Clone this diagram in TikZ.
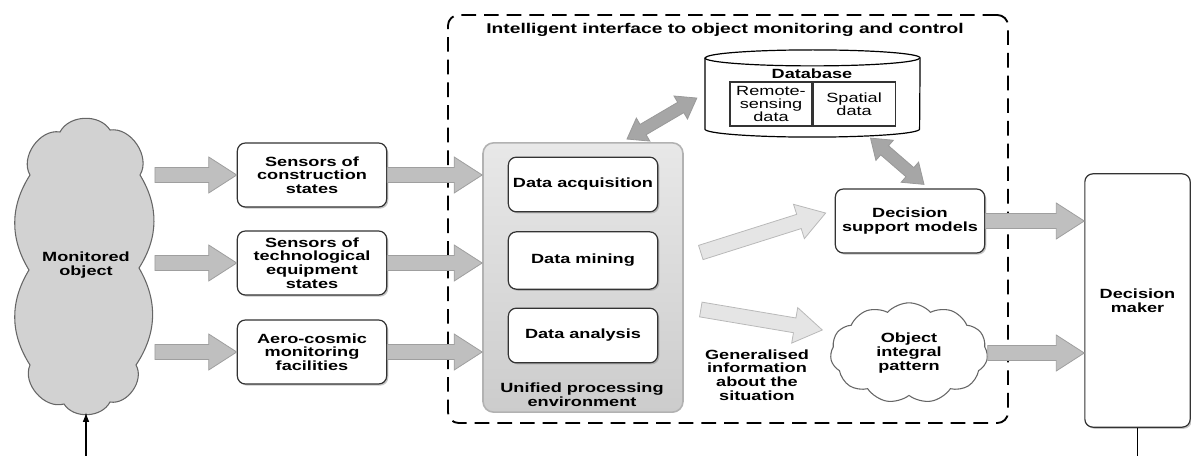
\documentclass[tikz,border=0pt]{standalone}
\usepackage{fontspec}
\setmainfont{Liberation Sans}[FakeStretch=1.36]
\usetikzlibrary{shapes, shapes.symbols, arrows.meta, positioning, calc, shadows}

% broad arrow between two points
\newcommand{\fatarrow}[3][]{%
  \draw[fatarrow, #1] let \p1=#2, \p2=#3,
    \n1={veclen(\x2-\x1,\y2-\y1)}, \n2={atan2(\y2-\y1,\x2-\x1)} in
    [shift={(\p1)}, rotate=\n2]
    (0pt,-5.6pt) -- (\n1-21pt,-5.6pt) -- (\n1-21pt,-13.5pt) -- (\n1,0pt)
    -- (\n1-21pt,13.5pt) -- (\n1-21pt,5.6pt) -- (0pt,5.6pt) -- cycle;}
% broad arrow with two heads
\newcommand{\fatdarrow}[3][]{%
  \draw[darrow, #1] let \p1=#2, \p2=#3,
    \n1={veclen(\x2-\x1,\y2-\y1)}, \n2={atan2(\y2-\y1,\x2-\x1)} in
    [shift={(\p1)}, rotate=\n2]
    (0pt,0pt) -- (14pt,-10pt) -- (14pt,-4.5pt) -- (\n1-14pt,-4.5pt) -- (\n1-14pt,-10pt)
    -- (\n1,0pt) -- (\n1-14pt,10pt) -- (\n1-14pt,4.5pt) -- (14pt,4.5pt) -- (14pt,10pt) -- cycle;}

\begin{document}
\begin{tikzpicture}[
    x=0.75pt, y=-0.75pt,
    font=\bfseries\fontsize{10}{10.2}\selectfont,
    box/.style={rectangle, draw=black!80, line width=0.9pt, rounded corners=6pt, fill=white, align=center,
      minimum width=112pt, minimum height=48pt, inner sep=2pt,
      drop shadow={shadow xshift=1.2pt, shadow yshift=-1.2pt, opacity=0.45}},
    inbox/.style={box, minimum height=41pt},
    cell/.style={rectangle, draw=black!80, line width=0.8pt, minimum width=61.5pt, minimum height=33pt,
      inner sep=1pt, align=center, font=\mdseries\fontsize{10}{9.8}\selectfont},
    puff/.style={cloud, cloud puffs=11, cloud puff arc=95, draw=black!60, line width=0.8pt, align=center, inner sep=0pt},
    fatarrow/.style={fill=gray!50, draw=gray!75, line width=0.6pt},
    light/.style={fill=gray!20, draw=gray!55},
    darrow/.style={fill=gray!70, draw=gray!80, line width=0.6pt},
]
    \useasboundingbox (0,0) rectangle (1191,456);

    \node[draw, dash pattern=on 11pt off 6pt, line width=1.4pt, rounded corners=8pt,
      minimum width=420pt, minimum height=306pt] (iface) at (728,219) {};
    \node[font=\bfseries\fontsize{10.6}{12}\selectfont] (title) at (725,30)
      {Intelligent interface to object monitoring and control};

    % monitored object: tall cloud drawn round its node
    \node[minimum width=103pt, minimum height=221pt, inner sep=0pt] (mon) at (86,265) {};
    \draw[shift={(mon.center)}, fill=gray!35, draw=black!60, line width=0.8pt]
      (-56,-90) to[bend left=65] (-26,-133) to[bend left=60] (24,-135) to[bend left=65] (54,-90)
      to[bend left=32] (53,3) to[bend left=32] (50,100) to[bend left=65] (24,137)
      to[bend left=60] (-22,139) to[bend left=65] (-56,100) to[bend left=32] (-57,5)
      to[bend left=32] cycle;
    \node[align=center] (monlbl) at (mon.center) {Monitored\\object};

    \node[box] (s1) at (312,175) {Sensors of\\construction\\states};
    \node[box] (s2) at (312,263) {Sensors of\\technological\\equipment\\states};
    \node[box] (s3) at (312,352) {Aero-cosmic\\monitoring\\facilities};

    \node[draw=gray!60, line width=1.2pt, rounded corners=8pt, top color=gray!18, bottom color=gray!40,
      minimum width=150pt, minimum height=202pt] (env) at (583,277.5) {};
    \node[inbox] (acq) at (583,184.5) {Data acquisition};
    \node[inbox, minimum height=43pt] (mine) at (583,260.5) {Data mining};
    \node[inbox] (ana) at (583,335.5) {Data analysis};
    \node[align=center] (envlbl) at (582,395) {Unified processing\\environment};

    \node[minimum width=161pt, minimum height=65pt, inner sep=0pt] (db) at (812.5,93.5) {};
    \draw[line width=0.9pt, fill=white] ([yshift=-6pt]db.north west) -- ([yshift=6pt]db.south west)
      arc[start angle=180, end angle=360, x radius=80.5pt, y radius=6pt] -- ([yshift=-6pt]db.north east)
      arc[start angle=0, end angle=180, x radius=80.5pt, y radius=6pt] -- cycle;
    \draw[line width=0.9pt] ([yshift=-6pt]db.north west)
      arc[start angle=180, end angle=360, x radius=80.5pt, y radius=6pt];
    \node (dblbl) at (812,74) {Database};
    \node[cell] (rs) at (771,104) {Remote-\\sensing\\data};
    \node[cell, right=0pt of rs] (sp) {Spatial\\data};

    \node[box] (dsm) at (910,221) {Decision\\support models};
    \node[puff, fill=white, minimum width=118pt, minimum height=67pt] (oip) at (909,353)
      {Object\\integral\\pattern};
    \node[align=center] (gen) at (757,375) {Generalised\\information\\about the\\situation};
    \node[box, minimum width=79pt, minimum height=190pt] (dm) at (1137.5,300.5) {Decision\\maker};

    \coordinate (feed) at (86,456);
    \coordinate (act) at (1137.5,456);
    \draw[-{Latex[length=7pt,width=5pt]}, line width=0.8pt] (feed) -- (mon.south);
    \draw[line width=0.8pt] (dm.south) -- (act);

    \fatarrow{(mon.east |- s1)}{(s1.west)}
    \fatarrow{(mon.east |- s2)}{(s2.west)}
    \fatarrow{(mon.east |- s3)}{(s3.west)}
    \fatarrow{(s1.east)}{(env.west |- s1)}
    \fatarrow{(s2.east)}{(env.west |- s2)}
    \fatarrow{(s3.east)}{(env.west |- s3)}
    \fatarrow[light]{($(env.east)+(17,-25)$)}{($(dsm.west)+(-9,-8)$)}
    \fatarrow[light]{($(env.east)+(17,32)$)}{($(oip.west)+(-8,-23)$)}
    \fatarrow{(dsm.east)}{(dm.west |- dsm.east)}
    \fatarrow{(oip.east)}{(dm.west |- oip.east)}
    \fatdarrow{($(env.north)+(44,-3)$)}{($(db.west)+(-8,4.5)$)}
    \fatdarrow{($(db.south)+(58,1)$)}{($(dsm.north)+(14,-4)$)}
\end{tikzpicture}
\end{document}
